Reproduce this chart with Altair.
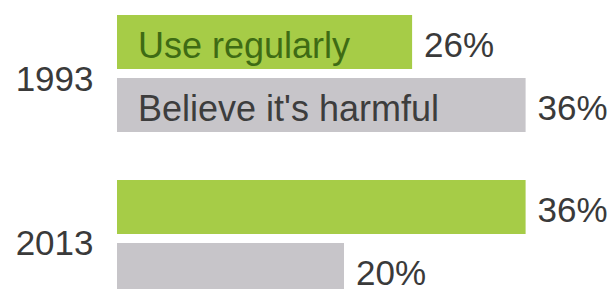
import altair as alt
import pandas as pd

years = ["1993", "1993", "2013", "2013"]
series = ["Use regularly", "Believe it's harmful", "Use regularly", "Believe it's harmful"]
values = [26, 36, 36, 20]
inbar = ["Use regularly", "Believe it's harmful", "", ""]
series_order = ["Use regularly", "Believe it's harmful"]

df = pd.DataFrame({
    "year": years,
    "series": series,
    "value": values,
    "inbar": inbar,
    "pct": [f"{v}%" for v in values],
})

FONT = "Liberation Sans"

y = alt.Y("year:N", title=None,
          scale=alt.Scale(paddingInner=0.2909, paddingOuter=0, range=[0, 282]),
          axis=alt.Axis(domain=False, ticks=False, labelPadding=24,
                        labelFontSize=35, labelFont=FONT, labelColor="#3a3a3a",
                        labelOffset=6))
yoff = alt.YOffset("series:N", sort=series_order,
                   scale=alt.Scale(paddingInner=0.143, paddingOuter=0))
x = alt.X("value:Q", title=None, scale=alt.Scale(domain=[0, 40]), axis=None)

color = alt.Color("series:N", legend=None,
                  scale=alt.Scale(domain=series_order,
                                  range=["#a6cc47", "#c7c5c9"]))

bars = alt.Chart(df).mark_bar().encode(x=x, y=y, yOffset=yoff, color=color)

pct = alt.Chart(df).mark_text(align="left", baseline="middle", dx=12, dy=4,
                              fontSize=35, font=FONT, color="#3a3a3a").encode(
    x=x, y=y, yOffset=yoff, text="pct:N")

lab = alt.Chart(df).mark_text(align="left", baseline="middle", dy=5,
                              fontSize=36, font=FONT).encode(
    x=alt.value(21), y=y, yOffset=yoff, text="inbar:N",
    color=alt.Color("series:N", legend=None,
                    scale=alt.Scale(domain=series_order,
                                    range=["#3e6b14", "#3d3d3d"])))

chart = alt.layer(bars, pct, lab).resolve_scale(color="independent").properties(
    width=454, height=274,
    autosize=alt.AutoSizeParams(type="none"),
    padding={"left": 109, "top": 7, "right": 37, "bottom": 0},
    background="white",
).configure_view(stroke=None)

chart.save("out.html", embed_options={"renderer": "svg", "actions": False})
